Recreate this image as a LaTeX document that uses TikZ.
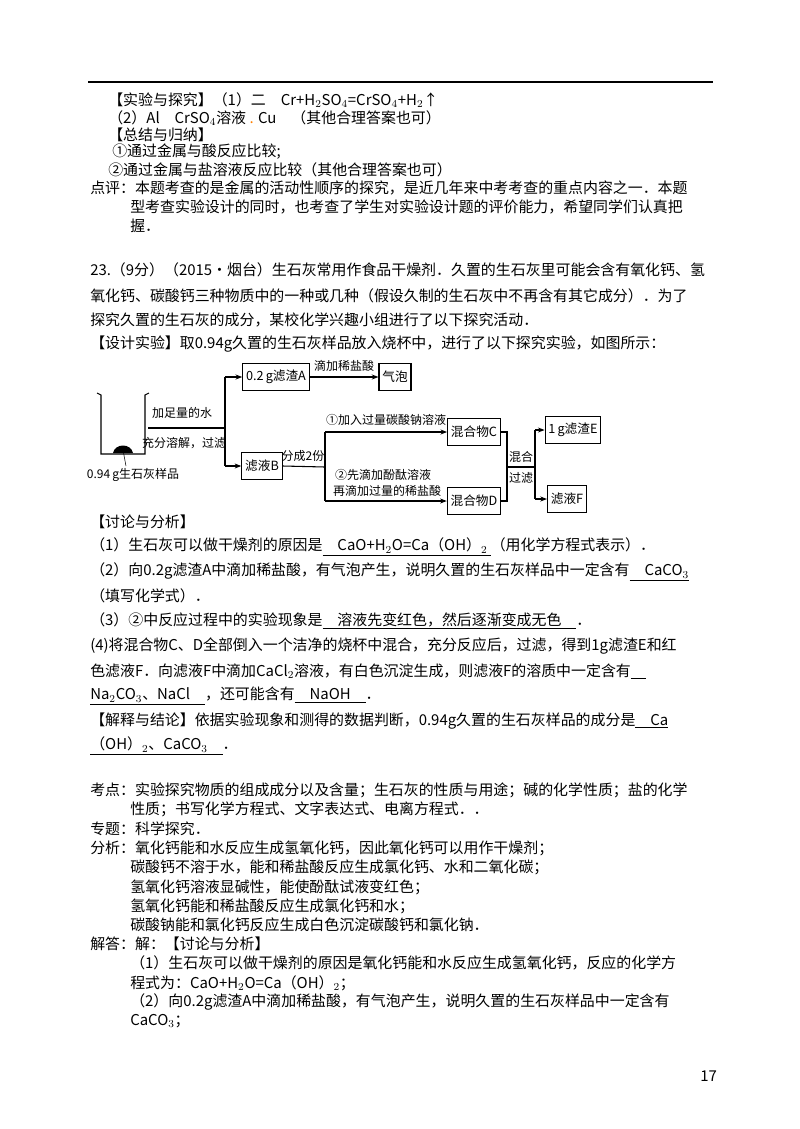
\documentclass[tikz,border=0pt]{standalone}
\usepackage{fontspec}
\setmainfont{Noto Sans CJK SC}
\usetikzlibrary{arrows.meta}
\begin{document}
\begin{tikzpicture}[x=0.75pt,y=-0.75pt,
  t/.style={anchor=west,inner sep=0pt,font=\fontsize{11.2pt}{12pt}\selectfont},
  s/.style={anchor=center,inner sep=0pt,font=\fontsize{9pt}{10pt}\selectfont},
  bx/.style={draw,thick,inner sep=2.5pt,minimum height=20pt,font=\fontsize{9.5pt}{10pt}\selectfont},
  ln/.style={thick},
  ar/.style={thick,-{Stealth[length=5pt]}}]
\useasboundingbox (0,0) rectangle (800,1129);
\fill[white] (0,0) rectangle (800,1129);
\draw[line width=1pt] (88,82) -- (713,82);
\node[t] (l1) at (108,100) {【实验与探究】（1）二\quad Cr+H$_2$SO$_4$=CrSO$_4$+H$_2$↑};
\node[t] (l2) at (108,118) {（2）Al\quad CrSO$_4$溶液 {\color{orange}.} Cu\quad （其他合理答案也可）};
\node[t] (l3) at (108,135) {【总结与归纳】};
\node[t] (l4) at (112,152) {①通过金属与酸反应比较;};
\node[t] (l5) at (108,170) {②通过金属与盐溶液反应比较（其他合理答案也可）};
\node[t] (l6) at (90,188) {点评：本题考查的是金属的活动性顺序的探究，是近几年来中考考查的重点内容之一．本题};
\node[t] (l7) at (130,207) {型考查实验设计的同时，也考查了学生对实验设计题的评价能力，希望同学们认真把};
\node[t] (l8) at (130,226) {握．};
\node[t] (m1) at (90,270) {23.（9分）（2015•烟台）生石灰常用作食品干燥剂．久置的生石灰里可能会含有氧化钙、氢};
\node[t] (m2) at (90,296) {氧化钙、碳酸钙三种物质中的一种或几种（假设久制的生石灰中不再含有其它成分）．为了};
\node[t] (m3) at (90,320) {探究久置的生石灰的成分，某校化学兴趣小组进行了以下探究活动．};
\node[t] (m4) at (90,344) {【设计实验】取0.94g久置的生石灰样品放入烧杯中，进行了以下探究实验，如图所示：};
% diagram
\draw[thick] (97,393) -- (101,395) -- (101,454) -- (145,454) -- (145,395) -- (149,393);
\fill (113,453) .. controls (115,443) and (131,443) .. (133,453) -- cycle;
\draw (123,450) -- (126,466);
\node[s] (smp) at (133,475) {0.94\,g生石灰样品};
\coordinate (b0) at (148,428);
\coordinate (j1) at (225,428);
\draw[ln] (b0) -- (j1);
\node[s] at (182,413) {加足量的水};
\node[s] at (184,443) {充分溶解，过滤};
\node[bx] (A) at (276,377) {0.2\,g滤渣A};
\node[bx] (Q) at (395,377) {气泡};
\node[bx] (B) at (262,466) {滤液B};
\draw[ar] (225,377) -- (A.west);
\draw[ln] (225,377) -- (225,466);
\draw[ar] (225,466) -- (B.west);
\draw[ar] (A.east) -- node[s,above=4pt]{滴加稀盐酸} (Q.west);
\coordinate (j2) at (325,467);
\draw[ln] (B.east) -- (j2);
\node[s] at (303,456) {分成2份};
\node[bx] (C) at (474,432) {混合物C};
\node[bx] (D) at (474,501) {混合物D};
\draw[ln] (325,432) -- (325,501);
\draw[ar] (325,432) -- (C.west);
\draw[ar] (325,501) -- (D.west);
\node[s] at (386,420) {①加入过量碳酸钠溶液};
\node[s] at (383,475) {②先滴加酚酞溶液};
\node[s] at (387,491) {再滴加过量的稀盐酸};
\draw[ln] (C.east) -- (507,432) -- (507,501) -- (D.east);
\draw[ln] (507,467) -- (535,467);
\node[s] at (521,457) {混合};
\node[s] at (521,478) {过滤};
\node[bx] (E) at (573,430) {1\,g滤渣E};
\node[bx] (F) at (567,499) {滤液F};
\draw[ln] (535,430) -- (535,499);
\draw[ar] (535,430) -- (E.west);
\draw[ar] (535,499) -- (F.west);
% discussion
\node[t] at (90,522) {【讨论与分析】};
\node[t] at (90,547) {（1）生石灰可以做干燥剂的原因是\underline{\quad CaO+H$_2$O=Ca（OH）$_2$\ }（用化学方程式表示）．};
\node[t] at (90,572) {（2）向0.2g滤渣A中滴加稀盐酸，有气泡产生，说明久置的生石灰样品中一定含有\underline{\quad CaCO$_3$}};
\node[t] at (90,596) {（填写化学式）．};
\node[t] at (90,621) {（3）②中反应过程中的实验现象是\underline{\quad 溶液先变红色，然后逐渐变成无色\quad}．};
\node[t] at (90,646) {(4)将混合物C、D全部倒入一个洁净的烧杯中混合，充分反应后，过滤，得到1g滤渣E和红};
\node[t] at (90,671) {色滤液F．向滤液F中滴加CaCl$_2$溶液，有白色沉淀生成，则滤液F的溶质中一定含有\underline{\quad}};
\node[t] at (90,696) {\underline{Na$_2$CO$_3$、NaCl\quad}，还可能含有\underline{\quad NaOH\quad}．};
\node[t] at (90,721) {【解释与结论】依据实验现象和测得的数据判断，0.94g久置的生石灰样品的成分是\underline{\quad Ca}};
\node[t] at (90,746) {\underline{（OH）$_2$、CaCO$_3$\quad}．};
\node[t] at (90,790) {考点：实验探究物质的组成成分以及含量；生石灰的性质与用途；碱的化学性质；盐的化学};
\node[t] at (130,809) {性质；书写化学方程式、文字表达式、电离方程式．．};
\node[t] at (90,829) {专题：科学探究．};
\node[t] at (90,848) {分析：氧化钙能和水反应生成氢氧化钙，因此氧化钙可以用作干燥剂；};
\node[t] at (130,867) {碳酸钙不溶于水，能和稀盐酸反应生成氯化钙、水和二氧化碳；};
\node[t] at (130,887) {氢氧化钙溶液显碱性，能使酚酞试液变红色；};
\node[t] at (130,906) {氢氧化钙能和稀盐酸反应生成氯化钙和水；};
\node[t] at (130,925) {碳酸钠能和氯化钙反应生成白色沉淀碳酸钙和氯化钠．};
\node[t] at (90,944) {解答：解：【讨论与分析】};
\node[t] at (130,963) {（1）生石灰可以做干燥剂的原因是氧化钙能和水反应生成氢氧化钙，反应的化学方};
\node[t] at (130,983) {程式为：CaO+H$_2$O=Ca（OH）$_2$；};
\node[t] at (130,1002) {（2）向0.2g滤渣A中滴加稀盐酸，有气泡产生，说明久置的生石灰样品中一定含有};
\node[t] at (130,1021) {CaCO$_3$；};
\node[t] at (700,1076) {17};
\end{tikzpicture}
\end{document}
